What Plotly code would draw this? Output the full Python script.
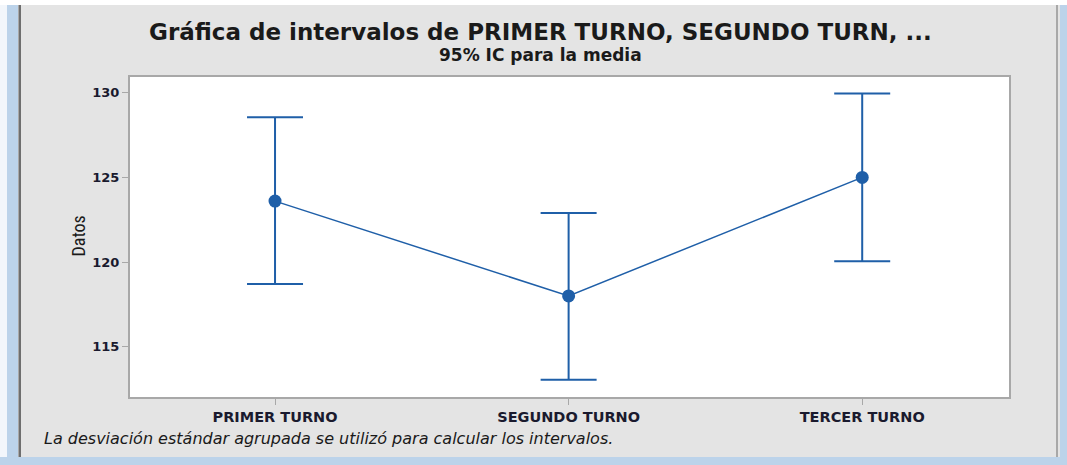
import plotly.graph_objects as go

categories = ["PRIMER TURNO", "SEGUNDO TURNO", "TERCER TURNO"]
means = [123.6, 118.0, 125.0]
upper = [128.55, 122.9, 129.95]
lower = [118.7, 113.05, 120.05]
y_ticks = [115, 120, 125, 130]

W, H = 1067, 465
L, R, T, B = 130, 1009, 77, 397
blue = "#1f5fa8"
wide = "DejaVu Sans, Verdana, sans-serif"


def px(x):
    return (x - L) / (R - L)


def py(y):
    return (B - y) / (B - T)


x_idx = list(range(len(categories)))
fig = go.Figure()
fig.add_trace(go.Scatter(
    x=x_idx, y=means, mode="lines+markers",
    line=dict(color=blue, width=1.5),
    marker=dict(color=blue, size=13),
    error_y=dict(type="data", symmetric=False,
                 array=[u - m for u, m in zip(upper, means)],
                 arrayminus=[m - l for m, l in zip(means, lower)],
                 color=blue, thickness=2, width=28),
    showlegend=False,
))

# window frame around the chart
frame = [
    dict(x0=0, x1=7, y0=0, y1=465, color="#f2f6fb"),
    dict(x0=7, x1=18, y0=0, y1=465, color="#bcd3ea"),
    dict(x0=18.5, x1=21, y0=5, y1=457, color="#6e6e6e"),
    dict(x0=1056, x1=1058, y0=5, y1=457, color="#a8a8a8"),
    dict(x0=1060, x1=1067, y0=0, y1=465, color="#bcd3ea"),
    dict(x0=0, x1=1067, y0=457, y1=465, color="#bcd3ea"),
    dict(x0=0, x1=1067, y0=0, y1=5, color="#ffffff"),
]
for f in frame:
    fig.add_shape(type="rect", xref="paper", yref="paper",
                  x0=px(f["x0"]), x1=px(f["x1"]), y0=py(f["y0"]), y1=py(f["y1"]),
                  fillcolor=f["color"], line=dict(width=0), layer="below")

fig.add_annotation(xref="paper", yref="paper", x=px(540), y=py(32), yanchor="middle",
                   text="<b>Gráfica de intervalos de PRIMER TURNO, SEGUNDO TURN, ...</b>",
                   showarrow=False, font=dict(size=23, color="#1a1a1a", family=wide))
fig.add_annotation(xref="paper", yref="paper", x=px(540), y=py(55), yanchor="middle",
                   text="<b>95% IC para la media</b>",
                   showarrow=False, font=dict(size=17, color="#1a1a1a", family=wide))
fig.add_annotation(xref="paper", yref="paper", x=px(42), y=py(438), yanchor="middle",
                   text="<i>La desviación estándar agrupada se utilizó para calcular los intervalos.</i>",
                   xanchor="left", showarrow=False,
                   font=dict(size=16, color="#1a1a1a", family=wide))
fig.add_annotation(xref="paper", yref="paper", x=px(65), y=py(236), yanchor="middle",
                   text="Datos", textangle=-90, showarrow=False,
                   font=dict(size=18, color="#1a1a1a",
                             family="Liberation Sans Narrow, Roboto Condensed, Roboto, sans-serif"))

fig.update_xaxes(
    tickmode="array", tickvals=x_idx, ticktext=categories,
    range=[-0.494, 2.5], showgrid=False, zeroline=False,
    showline=True, linecolor="#a8a8a8", linewidth=2, mirror=True,
    ticks="outside", ticklen=6, tickcolor="#a8a8a8",
    tickfont=dict(size=14.5, color="#1a1a2e", family=wide, weight="bold"),
)
fig.update_yaxes(
    tickmode="array", tickvals=y_ticks, range=[112.03, 130.93],
    showgrid=False, zeroline=False,
    showline=True, linecolor="#a8a8a8", linewidth=2, mirror=True,
    ticks="outside", ticklen=6, tickcolor="#a8a8a8",
    tickfont=dict(size=13, color="#1a1a2e", family=wide, weight="bold"),
)
fig.update_layout(
    width=W, height=H,
    margin=dict(l=L, r=W - R, t=T, b=H - B),
    paper_bgcolor="#e4e4e4", plot_bgcolor="#ffffff",
)
fig.write_html("out.html", config={"displayModeBar": False},
               post_script="document.body.style.margin='0px';")
